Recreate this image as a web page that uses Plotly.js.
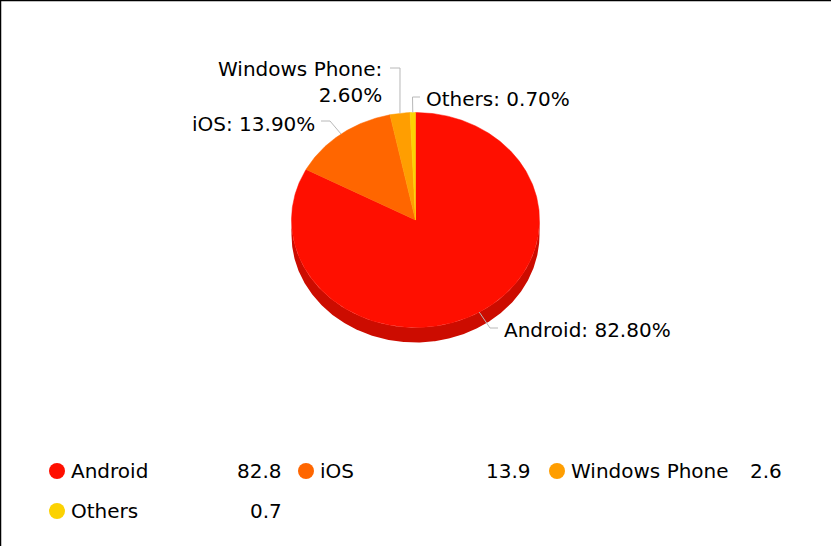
<!DOCTYPE html>
<html>
<head>
<meta charset="utf-8">
<script src="https://cdn.plot.ly/plotly-3.0.1.min.js"></script>
<style>
  html, body { margin: 0; padding: 0; background: #fff; }
  #chart { width: 831px; height: 546px; }
</style>
</head>
<body>
<div id="chart"></div>
<script>
// ---- data ----
const categories = ['Android', 'iOS', 'Windows Phone', 'Others'];
const shares = [82.8, 13.9, 2.6, 0.7];
const sliceColors = ['#FF0F00', '#FF6600', '#FF9E01', '#FCD202'];

// ---- layout constants (pixels, axis = pixel space) ----
const W = 831, H = 546;
const CX = 415.5, CY = 220, RX = 124, RY = 107.5, DEPTH = 15;
const FONT = 'DejaVu Sans, Verdana, sans-serif';
const FS = 20;

// label placement (elbow / end of connector, text anchor)
const labelPlacement = [
  { elbow: [490, 328], end: [498, 328], x: 502, y: 330, anchor: 'left', br: false },
  { elbow: [330, 121], end: [321, 121], x: 317, y: 124, anchor: 'right', br: false },
  { elbow: [400, 68],  end: [390, 68],  x: 384, y: 82,  anchor: 'right', br: true },
  { elbow: [412.5, 97], end: [420, 97], x: 424, y: 99,  anchor: 'left', br: false }
];
// legend placement
const legendMarkerX = [57, 306, 557];
const legendValueRight = [284, 533, 784];
const legendRowY = [471, 511];

function darken(hex, f) {
  const n = parseInt(hex.slice(1), 16);
  const r = Math.round(((n >> 16) & 255) * f), g = Math.round(((n >> 8) & 255) * f), b = Math.round((n & 255) * f);
  return 'rgb(' + r + ',' + g + ',' + b + ')';
}
function pt(theta, dy) {
  return [CX + RX * Math.sin(theta), CY - RY * Math.cos(theta) + (dy || 0)];
}
function arc(a0, a1, dy) {
  const pts = [];
  const n = Math.max(2, Math.ceil(Math.abs(a1 - a0) / (Math.PI / 360)));
  for (let i = 0; i <= n; i++) pts.push(pt(a0 + (a1 - a0) * i / n, dy));
  return pts;
}

const total = shares.reduce((a, b) => a + b, 0);
const traces = [];
const annotations = [];

// slice angle ranges (clockwise from 12 o'clock)
let acc = 0;
const ranges = shares.map(v => {
  const a0 = acc / total * 2 * Math.PI;
  acc += v;
  const a1 = acc / total * 2 * Math.PI;
  return [a0, a1];
});

// side walls (front half only)
ranges.forEach((r, i) => {
  const s = Math.max(r[0], Math.PI / 2), e = Math.min(r[1], 3 * Math.PI / 2);
  if (e <= s) return;
  const top = arc(s, e, 0);
  const bot = arc(e, s, DEPTH);
  const all = top.concat(bot);
  all.push(top[0]);
  traces.push({
    type: 'scatter', mode: 'lines', fill: 'toself',
    x: all.map(p => p[0]), y: all.map(p => p[1]),
    line: { width: 0, color: darken(sliceColors[i], 0.8) },
    fillcolor: darken(sliceColors[i], 0.8),
    hoverinfo: 'skip', showlegend: false
  });
});

// top faces
ranges.forEach((r, i) => {
  const pts = [[CX, CY]].concat(arc(r[0], r[1], 0));
  pts.push([CX, CY]);
  traces.push({
    type: 'scatter', mode: 'lines', fill: 'toself',
    x: pts.map(p => p[0]), y: pts.map(p => p[1]),
    line: { width: 0.5, color: sliceColors[i] },
    fillcolor: sliceColors[i],
    name: categories[i], hoverinfo: 'name', showlegend: false
  });
});

// connectors and labels
ranges.forEach((r, i) => {
  const L = labelPlacement[i];
  const mid = (r[0] + r[1]) / 2;
  const s = pt(mid, 0);
  traces.push({
    type: 'scatter', mode: 'lines',
    x: [s[0], L.elbow[0], L.end[0]], y: [s[1], L.elbow[1], L.end[1]],
    line: { width: 1, color: '#b8b8b8' },
    hoverinfo: 'skip', showlegend: false
  });
  const pct = (shares[i] / total * 100).toFixed(2) + '%';
  annotations.push({
    x: L.x, y: L.y, xref: 'x', yref: 'y', showarrow: false,
    text: categories[i] + ':' + (L.br ? '<br>' : ' ') + pct,
    xanchor: L.anchor, yanchor: 'middle', align: L.anchor,
    font: { family: FONT, size: FS, color: '#000' }
  });
});

// legend
const lx = [], ly = [];
categories.forEach((c, i) => {
  const col = i % 3, row = Math.floor(i / 3);
  lx.push(legendMarkerX[col]); ly.push(legendRowY[row]);
  annotations.push({
    x: legendMarkerX[col] + 12, y: legendRowY[row], xref: 'x', yref: 'y', showarrow: false,
    text: c, xanchor: 'left', yanchor: 'middle',
    font: { family: FONT, size: FS, color: '#000' }
  });
  annotations.push({
    x: legendValueRight[col], y: legendRowY[row], xref: 'x', yref: 'y', showarrow: false,
    text: String(shares[i]), xanchor: 'right', yanchor: 'middle',
    font: { family: FONT, size: FS, color: '#000' }
  });
});
traces.push({
  type: 'scatter', mode: 'markers', x: lx, y: ly,
  marker: { size: 16, color: sliceColors, line: { width: 0 } },
  hoverinfo: 'skip', showlegend: false
});

const layout = {
  width: W, height: H,
  margin: { l: 0, r: 0, t: 0, b: 0, pad: 0 },
  paper_bgcolor: '#fff', plot_bgcolor: '#fff',
  showlegend: false,
  xaxis: { range: [0, W], visible: false, fixedrange: true },
  yaxis: { range: [H, 0], visible: false, fixedrange: true },
  annotations: annotations,
  shapes: [
    { type: 'line', xref: 'x', yref: 'y', x0: 0, x1: W, y0: 0.5, y1: 0.5, line: { color: '#000', width: 1.5 } },
    { type: 'line', xref: 'x', yref: 'y', x0: 0.5, x1: 0.5, y0: 0, y1: H, line: { color: '#000', width: 1.5 } }
  ]
};

Plotly.newPlot('chart', traces, layout, { displayModeBar: false, staticPlot: true });
</script>
</body>
</html>
